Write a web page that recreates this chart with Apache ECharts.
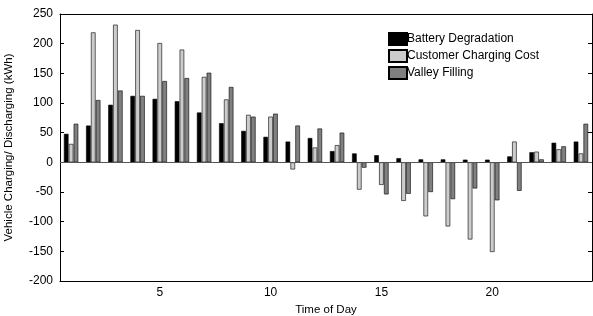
<!DOCTYPE html>
<html>
<head>
<meta charset="utf-8">
<script src="https://cdn.jsdelivr.net/npm/echarts@6/dist/echarts.min.js"></script>
<style>
  html, body { margin: 0; padding: 0; background: #fff; }
  #main { width: 593px; height: 316px; }
</style>
</head>
<body>
<div id="main"></div>
<script>
// hours of the day, 1..24
var hours = [];
for (var h = 1; h <= 24; h++) hours.push(String(h));

var batteryDeg = [48, 62, 97, 112, 107, 103, 84, 66, 53, 43, 35, 41, 19, 15, 12, 7, 5, 5, 4.5, 4.5, 10, 17, 33, 35];
var chargingCost = [31, 219, 232, 223, 201, 190, 144, 106, 80, 77, -12, 25, 29, -46, -38, -65, -91, -108, -130, -151, 35, 18, 22, 15];
var valleyFill = [65, 105, 121, 112, 137, 142, 151, 127, 77, 82, 62, 57, 50, -9, -54, -53, -50, -62, -44, -64, -48, 5, 27, 65];

var yTicks = { min: -200, max: 250, step: 50 };

var myChart = echarts.init(document.getElementById('main'));

var font = 'Liberation Sans, Arial, Helvetica, sans-serif';
var showTick = function(idx) { return (idx + 1) % 5 === 0; };

var option = {
    animation: false,
    textStyle: { fontFamily: font },
    grid: { left: 60, right: 1, top: 14, bottom: 35, outerBoundsMode: 'none', containLabel: false },
    legend: {
        orient: 'vertical',
        left: 383,
        top: 27,
        icon: 'rect',
        itemWidth: 18,
        itemHeight: 12,
        itemGap: 3,
        textStyle: { fontSize: 12, color: '#000', padding: [0, 0, 0, -5] },
        data: ['Battery Degradation', 'Customer Charging Cost', 'Valley Filling']
    },
    xAxis: [{
        type: 'category',
        data: hours,
        position: 'bottom',
        name: 'Time of Day',
        nameLocation: 'middle',
        nameGap: 22,
        nameTextStyle: { fontSize: 11.5, color: '#000' },
        axisLine: { onZero: false, lineStyle: { color: '#000' } },
        axisTick: { inside: true, length: 4, alignWithLabel: true, interval: showTick, lineStyle: { color: '#000' } },
        axisLabel: { interval: showTick, fontSize: 12, color: '#000', margin: 6 }
    }, {
        type: 'category',
        data: hours,
        position: 'top',
        axisLine: { onZero: false, lineStyle: { color: '#000' } },
        axisTick: { inside: true, length: 4, alignWithLabel: true, interval: showTick, lineStyle: { color: '#000' } },
        axisLabel: { show: false }
    }],
    yAxis: [{
        type: 'value',
        min: yTicks.min,
        max: yTicks.max,
        interval: yTicks.step,
        name: 'Vehicle Charging/ Discharging (kWh)',
        nameLocation: 'middle',
        nameGap: 45,
        nameTextStyle: { fontSize: 11.5, color: '#000' },
        axisLine: { show: true, lineStyle: { color: '#000' } },
        axisTick: { show: true, inside: true, length: 4, lineStyle: { color: '#000' } },
        axisLabel: { fontSize: 12, color: '#000', margin: 7 },
        splitLine: { show: false }
    }, {
        type: 'value',
        min: yTicks.min,
        max: yTicks.max,
        interval: yTicks.step,
        position: 'right',
        axisLine: { show: true, lineStyle: { color: '#000' } },
        axisTick: { show: true, inside: true, length: 4, lineStyle: { color: '#000' } },
        axisLabel: { show: false },
        splitLine: { show: false }
    }],
    series: [{
        name: 'Battery Degradation',
        type: 'bar',
        data: batteryDeg,
        barWidth: 4.6,
        barGap: '6%',
        itemStyle: { color: '#000000', borderColor: '#000', borderWidth: 0.6 },
        markLine: {
            silent: true,
            symbol: 'none',
            label: { show: false },
            lineStyle: { color: '#555', type: 'solid', width: 1 },
            data: [{ yAxis: 0 }]
        }
    }, {
        name: 'Customer Charging Cost',
        type: 'bar',
        data: chargingCost,
        barWidth: 4.6,
        barGap: '6%',
        itemStyle: { color: '#cccccc', borderColor: '#000', borderWidth: 0.6 }
    }, {
        name: 'Valley Filling',
        type: 'bar',
        data: valleyFill,
        barWidth: 4.6,
        barGap: '6%',
        itemStyle: { color: '#808080', borderColor: '#000', borderWidth: 0.6 }
    }]
};

myChart.setOption(option);
</script>
</body>
</html>
